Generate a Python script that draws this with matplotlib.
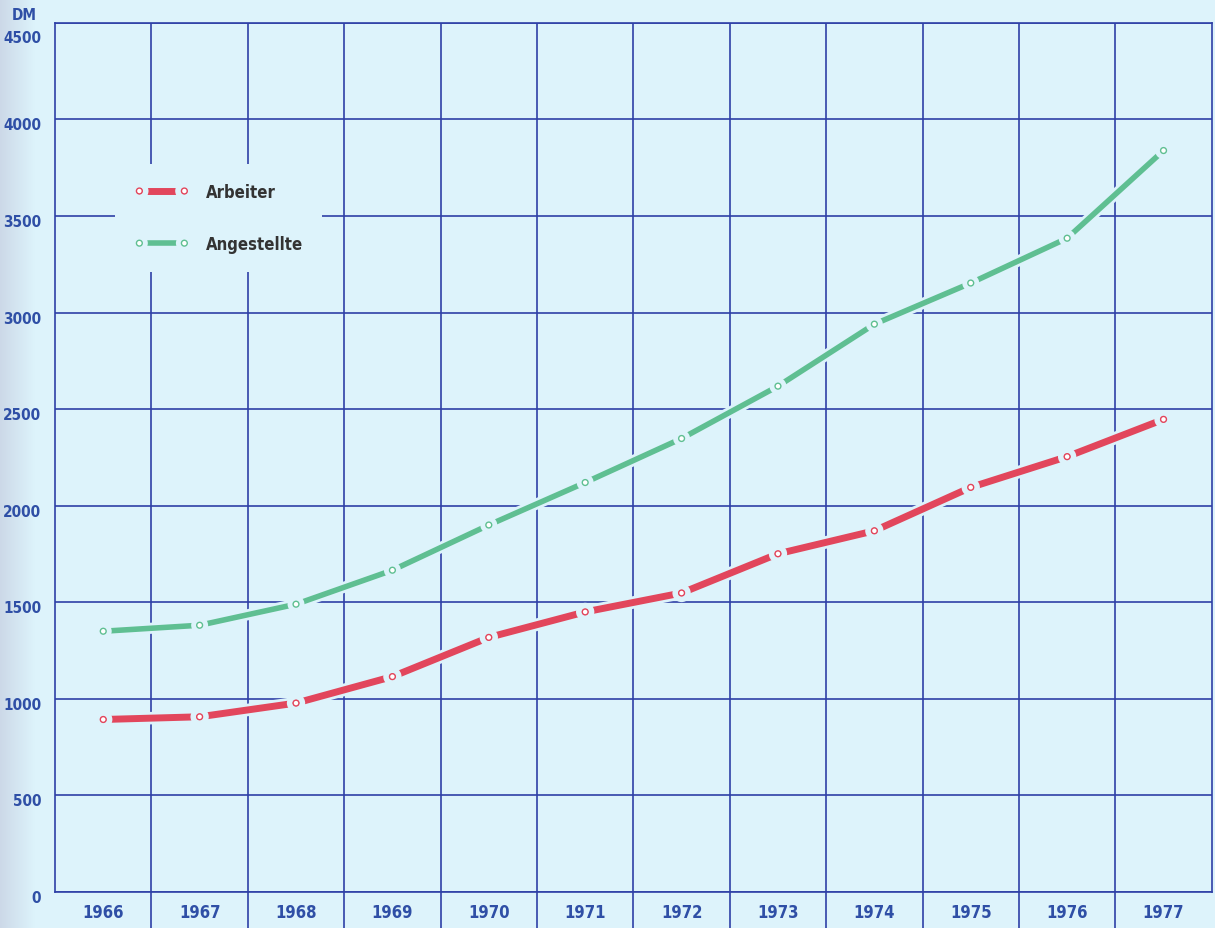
import matplotlib
matplotlib.use("Agg")
import matplotlib.pyplot as plt
import matplotlib.patheffects as pe
import matplotlib.transforms as mtrans
import numpy as np
from matplotlib.ticker import FixedLocator

# Average gross monthly earnings (DM)
years = ["1966", "1967", "1968", "1969", "1970", "1971",
         "1972", "1973", "1974", "1975", "1976", "1977"]
arbeiter = [893, 907, 978, 1115, 1318, 1450, 1548, 1751, 1870, 2095, 2254, 2447]
angestellte = [1350, 1381, 1490, 1666, 1900, 2120, 2348, 2619, 2940, 3153, 3385, 3839]
y_ticks = [0, 500, 1000, 1500, 2000, 2500, 3000, 3500, 4000, 4500]

BG = "#ddf3fb"
GRID = "#2e40a6"
LABEL = "#2f4fa6"
RED = "#e2465c"
GREEN = "#5fbf92"
FONT = ["DejaVu Sans", "Noto Sans"]

plt.rcParams["font.family"] = FONT
plt.rcParams["font.stretch"] = "condensed"

fig = plt.figure(figsize=(12.15, 9.29), dpi=100, facecolor=BG)

# soft shading along the left paper edge
shade = fig.add_axes([0, 0, 0.028, 1], zorder=-5)
grad = np.linspace(0, 1, 64)[None, :]
bg_rgb = np.array(matplotlib.colors.to_rgb(BG))
edge_rgb = np.array([0.80, 0.85, 0.91])
img = edge_rgb[None, None, :] * (1 - grad[..., None]) + bg_rgb[None, None, :] * grad[..., None]
shade.imshow(img, aspect="auto", extent=[0, 1, 0, 1])
shade.axis("off")

ax = fig.add_axes([0.0453, 0.0388, 0.952, 0.9355], facecolor=BG)

x = list(range(len(years)))
ax.set_xlim(-0.5, len(years) - 0.5)
ax.set_ylim(0, 4500)

# grid: horizontal at every 500 DM, vertical between the year columns
ax.yaxis.set_major_locator(FixedLocator(y_ticks))
ax.xaxis.set_major_locator(FixedLocator(x))
ax.xaxis.set_minor_locator(FixedLocator([i + 0.5 for i in range(len(years) - 1)]))
ax.grid(True, which="major", axis="y", color=GRID, lw=1.2)
ax.grid(True, which="minor", axis="x", color=GRID, lw=1.2)
ax.set_axisbelow(True)

ax.set_xticklabels(years)
ax.set_yticklabels([str(v) for v in y_ticks])
ax.tick_params(axis="x", which="major", length=0, pad=8,
               labelsize=12, labelcolor=LABEL)
ax.tick_params(axis="x", which="minor", length=27, width=1.2, color=GRID,
               direction="out")
ax.tick_params(axis="y", which="major", length=0, pad=10,
               labelsize=11, labelcolor=LABEL)
for lab in ax.get_xticklabels() + ax.get_yticklabels():
    lab.set_fontweight("bold")
    lab.set_fontstretch("condensed")

# value labels sit slightly below their grid lines; the top one further down
for val, lab in zip(y_ticks, ax.get_yticklabels()):
    dy = -13 if val == 4500 else -4
    lab.set_transform(lab.get_transform() +
                      mtrans.ScaledTranslation(0, dy / 100, fig.dpi_scale_trans))

for s in ax.spines.values():
    s.set_color(GRID)
    s.set_linewidth(1.2)

halo = lambda w: [pe.Stroke(linewidth=w + 4, foreground=BG), pe.Normal()]

ax.plot(x, angestellte, color=GREEN, lw=4, marker="o", ms=4.2,
        mfc="white", mec=GREEN, mew=1.0, label="Angestellte",
        path_effects=halo(4), zorder=3, solid_capstyle="round")
ax.plot(x, arbeiter, color=RED, lw=5, marker="o", ms=4.2,
        mfc="white", mec=RED, mew=1.0, label="Arbeiter",
        path_effects=halo(5), zorder=4, solid_capstyle="round")

handles, labels = ax.get_legend_handles_labels()
leg = ax.legend(handles[::-1], labels[::-1], loc="upper left",
                bbox_to_anchor=(0.052, 0.838), numpoints=2,
                handlelength=3.3, handletextpad=1.0, labelspacing=2.05,
                borderpad=1.15, borderaxespad=0, frameon=True,
                facecolor=BG, edgecolor="none", framealpha=1,
                fancybox=False, prop={"family": FONT, "weight": "bold",
                                      "size": 12, "stretch": "condensed"})
for t in leg.get_texts():
    t.set_color("#333333")

fig.text(0.0099, 0.991, "DM", ha="left", va="top", color=LABEL,
         fontsize=11, fontweight="bold", fontstretch="condensed")

fig.savefig("out.png", dpi=100, facecolor=BG)
